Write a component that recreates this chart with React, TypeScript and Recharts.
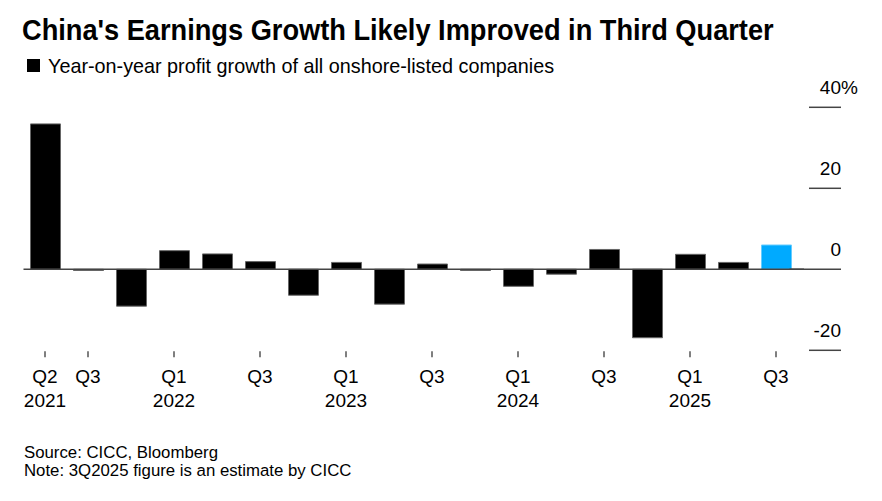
import React from "react";
import { BarChart, Bar, XAxis, YAxis, ReferenceLine, Cell } from "recharts";

const categories = [
  "Q2 2021", "Q3 2021", "Q4 2021", "Q1 2022", "Q2 2022", "Q3 2022", "Q4 2022",
  "Q1 2023", "Q2 2023", "Q3 2023", "Q4 2023", "Q1 2024", "Q2 2024", "Q3 2024",
  "Q4 2024", "Q1 2025", "Q2 2025", "Q3 2025",
];
const growth = [35.9, -0.3, -9.1, 4.6, 3.8, 1.9, -6.4, 1.7, -8.6, 1.3, -0.3, -4.2, -1.2, 4.9, -16.9, 3.7, 1.7, 6.0];
const isEstimate = [false, false, false, false, false, false, false, false, false, false, false, false, false, false, false, false, false, true];
const quarterTicks = ["Q2", "Q3", "", "Q1", "", "Q3", "", "Q1", "", "Q3", "", "Q1", "", "Q3", "", "Q1", "", "Q3"];
const yearTicks = ["2021", "", "", "2022", "", "", "", "2023", "", "", "", "2024", "", "", "", "2025", "", ""];
const yTicks = [-20, 0, 20, 40];
const yTickLabels = ["-20", "0", "20", "40"];
const yTickSuffix = ["", "", "", "%"];

const data = categories.map((c, i) => ({ name: c, value: growth[i], est: isEstimate[i] }));

const FONT = "'Liberation Sans', Arial, sans-serif";
const BLUE = "#00AAFF";
const TICK_FS = 19;

const XTick = (props: any) => {
  const { x, y, payload } = props;
  const i = payload.index;
  const q = quarterTicks[i];
  if (!q) return null;
  const yr = yearTicks[i];
  return (
    <g>
      <line x1={x} x2={x} y1={y + 1} y2={y + 7} stroke="#555" strokeWidth={1.5} />
      <text x={x} y={y + 32.5} textAnchor="middle" fontFamily={FONT} fontSize={TICK_FS} fill="#000">
        {q}
      </text>
      {yr ? (
        <text x={x} y={y + 57} textAnchor="middle" fontFamily={FONT} fontSize={TICK_FS} fill="#000">
          {yr}
        </text>
      ) : null}
    </g>
  );
};

const YTick = (props: any) => {
  const { x, y, payload } = props;
  const idx = yTicks.indexOf(payload.value);
  const label = idx >= 0 ? yTickLabels[idx] : String(payload.value);
  const suffix = idx >= 0 ? yTickSuffix[idx] : "";
  const isZero = Number(payload.value) === 0;
  return (
    <g>
      <line
        x1={isZero ? x - 8 : x + 11.5}
        x2={x + 43.5}
        y1={y}
        y2={y}
        stroke="#444"
        strokeWidth={1.5}
      />
      <text x={x + 43.5} y={y - 13} textAnchor="end" fontFamily={FONT} fontSize={TICK_FS} fill="#000">
        {label}
      </text>
      {suffix ? (
        <text x={x + 43.5} y={y - 13} textAnchor="start" fontFamily={FONT} fontSize={TICK_FS} fill="#000">
          {suffix}
        </text>
      ) : null}
    </g>
  );
};

const ZeroLine = (props: any) => {
  const { x1, x2, y1, y2 } = props;
  if (x1 == null) return null;
  return <line x1={x1 + 6.5} x2={x2} y1={y1} y2={y2} stroke="#444" strokeWidth={1.5} />;
};

export default function App() {
  return (
    <div style={{ position: "absolute", left: 0, top: 0, width: 882, height: 501, background: "#fff", fontFamily: FONT }}>
      <div
        style={{
          position: "absolute",
          left: 22,
          top: 12,
          fontFamily: FONT,
          fontWeight: 700,
          fontSize: 29,
          color: "#000",
          whiteSpace: "nowrap",
          lineHeight: "36px",
          transform: "scaleX(0.938)",
          transformOrigin: "0 0",
        }}
      >
        China's Earnings Growth Likely Improved in Third Quarter
      </div>
      <div style={{ position: "absolute", left: 27, top: 59, width: 13, height: 13, background: "#000" }} />
      <div
        style={{
          position: "absolute",
          left: 48,
          top: 53,
          fontSize: 19.8,
          color: "#000",
          whiteSpace: "nowrap",
          lineHeight: "26px",
        }}
      >
        Year-on-year profit growth of all onshore-listed companies
      </div>
      <div style={{ position: "absolute", left: 0, top: 0 }}>
        <BarChart
          width={882}
          height={501}
          data={data}
          margin={{ top: 107.3, right: 40, bottom: 90.7, left: 23.5 }}
          barSize={30}
        >
          <XAxis
            dataKey="name"
            interval={0}
            axisLine={false}
            tickLine={false}
            tickSize={0}
            tickMargin={0}
            height={60}
            tick={<XTick />}
          />
          <YAxis
            orientation="right"
            domain={[-20, 40]}
            ticks={yTicks}
            axisLine={false}
            tickLine={false}
            tickSize={0}
            tickMargin={0}
            width={44.5}
            tick={<YTick />}
            allowDataOverflow
          />
          <Bar dataKey="value" isAnimationActive={false} stroke="#666" strokeWidth={1}>
            {data.map((d, i) => (
              <Cell key={i} fill={d.est ? BLUE : "#000"} stroke={d.est ? "#66CCFF" : "#666"} />
            ))}
          </Bar>
          <ReferenceLine y={0} shape={<ZeroLine />} ifOverflow="visible" />
        </BarChart>
      </div>
      <div style={{ position: "absolute", left: 24, top: 444, fontSize: 16.8, lineHeight: "18px", color: "#000", whiteSpace: "nowrap" }}>
        Source: CICC, Bloomberg
        <br />
        Note: 3Q2025 figure is an estimate by CICC
      </div>
    </div>
  );
}
